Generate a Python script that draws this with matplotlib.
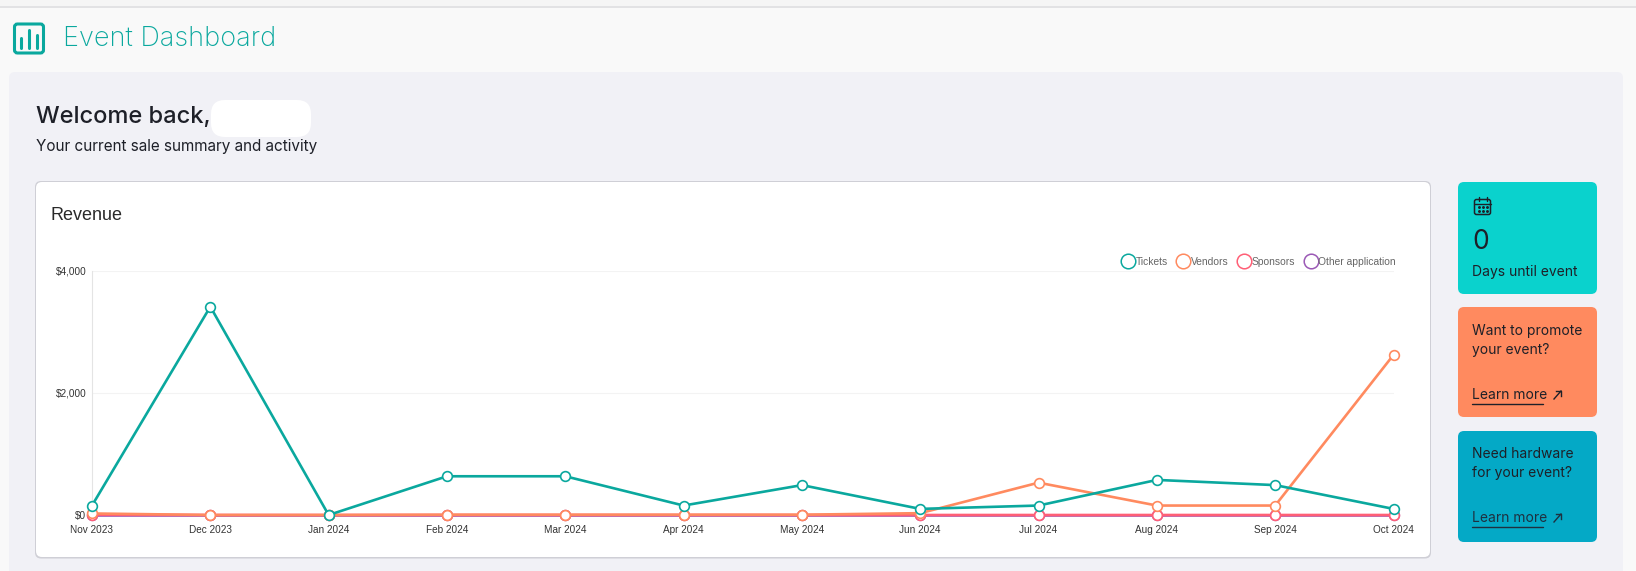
import matplotlib
matplotlib.use('Agg')
import matplotlib.pyplot as plt
from matplotlib.lines import Line2D
from matplotlib.patches import FancyBboxPatch, Rectangle
from matplotlib.ticker import FuncFormatter
import numpy as np

W, H = 1636, 571

months = ['Nov 2023', 'Dec 2023', 'Jan 2024', 'Feb 2024', 'Mar 2024', 'Apr 2024',
          'May 2024', 'Jun 2024', 'Jul 2024', 'Aug 2024', 'Sep 2024', 'Oct 2024']
tickets = [155, 3415, 0, 635, 635, 155, 490, 100, 155, 575, 490, 100]
vendors = [25, 0, 0, 5, 5, 5, 5, 30, 530, 155, 155, 2625]
sponsors = [5, 0, 0, 0, 0, 0, 0, 0, 0, 0, 0, 0]
other = [0, 0, 0, 0, 0, 0, 0, 0, 0, 0, 0, 0]
yticks = [0, 2000, 4000]

TEAL = '#0aa89e'
ORANGE = '#ff8a5f'
PINK = '#ff5f76'
PURPLE = '#9b59b6'
INK = '#1e2028'
UI_FONT = ['Inter', 'DejaVu Sans']
CHART_FONT = ['Liberation Sans', 'DejaVu Sans']


def box(ax, x0, y0, x1, y1, color, r=6, **kw):
    p = FancyBboxPatch((x0 + r, y0 + r), x1 - x0 - 2 * r, y1 - y0 - 2 * r,
                       boxstyle=f'round,pad={r},rounding_size={r}',
                       facecolor=color, edgecolor='none', **kw)
    ax.add_patch(p)
    return p


def px_line(ax, xs, ys, color, lw=1.4):
    ax.plot(xs, ys, color=color, lw=lw, solid_capstyle='round')


def learn_more(ax, x, y, color):
    ax.text(x, y, 'Learn more', fontsize=10, color=color, family=UI_FONT, va='center')
    px_line(ax, [x, x + 71], [y + 9, y + 9], color, 1.0)
    ax.plot([x + 82, x + 89], [y + 4, y - 4], color=color, lw=1.0)
    ax.plot([x + 84, x + 89, x + 89], [y - 4, y - 4, y + 1], color=color, lw=1.0)


fig = plt.figure(figsize=(W / 100, H / 100), dpi=100, facecolor='#f9f9f9')
bg = fig.add_axes([0, 0, 1, 1])
bg.set(xlim=(0, W), ylim=(H, 0))
bg.axis('off')

# top strip
bg.add_patch(Rectangle((0, 0), W, 6, facecolor='#f5f5f5', edgecolor='none'))
bg.add_patch(Rectangle((0, 6), W, 1.5, facecolor='#e2e2e4', edgecolor='none'))

# header icon and title
icon = FancyBboxPatch((14.5, 24), 29, 29, boxstyle='round,pad=0,rounding_size=3',
                      facecolor='none', edgecolor=TEAL, lw=2.2)
bg.add_patch(icon)
for x, top in [(21, 38), (29, 30), (37, 35)]:
    px_line(bg, [x, x], [top, 48], TEAL, 2.2)
bg.text(63, 39, 'Event Dashboard', fontsize=19.5, color=TEAL, family=UI_FONT,
        va='center', fontweight='light')

# main panel
box(bg, 9, 72, 1623, H + 20, '#f1f1f6', r=6)
bg.text(36, 117, 'Welcome back,', fontsize=17, color=INK, family=UI_FONT, va='center',
        fontweight='medium')
box(bg, 211, 100, 311, 137, 'white', r=14)
bg.text(36, 146, 'Your current sale summary and activity', fontsize=11, color=INK,
        family=UI_FONT, va='center')

# chart card
box(bg, 35, 181, 1431, 558.5, '#cfcfd6', r=6)
box(bg, 36, 182, 1430, 557, 'white', r=6)
bg.text(50, 216, 'Revenue', fontsize=13, color='#2a2a2a', family=CHART_FONT, va='center')

# side cards
box(bg, 1458, 182, 1597, 294, '#0ad2cd', r=6)
box(bg, 1458, 307, 1597, 417, ORANGE, r=6)
box(bg, 1458, 431, 1597, 542, '#04a9c6', r=6)

# calendar icon
cal = FancyBboxPatch((1474.5, 199.5), 16, 15, boxstyle='round,pad=0,rounding_size=2',
                     facecolor='none', edgecolor=INK, lw=1.1)
bg.add_patch(cal)
px_line(bg, [1475, 1491], [204, 204], INK, 1.0)
px_line(bg, [1478.5, 1478.5], [197, 201], INK, 1.0)
px_line(bg, [1487, 1487], [197, 201], INK, 1.0)
bg.scatter([1479, 1483, 1487, 1479, 1483, 1487], [207, 207, 207, 211, 211, 211],
           s=1.2, color=INK, zorder=3)

bg.text(1472, 242, '0', fontsize=19, color=INK, family=UI_FONT, va='center')
bg.text(1472, 272, 'Days until event', fontsize=10, color=INK, family=UI_FONT, va='center')
bg.text(1472, 331, 'Want to promote', fontsize=10, color=INK, family=UI_FONT, va='center')
bg.text(1472, 350, 'your event?', fontsize=10, color=INK, family=UI_FONT, va='center')
learn_more(bg, 1472, 395, INK)
bg.text(1472, 454, 'Need hardware', fontsize=10, color=INK, family=UI_FONT, va='center')
bg.text(1472, 473, 'for your event?', fontsize=10, color=INK, family=UI_FONT, va='center')
learn_more(bg, 1472, 518, '#1e3040')

# revenue chart
left, right, top, bottom = 92, 1393.5, 271, 515
ax = fig.add_axes([left / W, 1 - bottom / H, (right - left) / W, (bottom - top) / H])
ax.patch.set_alpha(0)
ax.set(xlim=(0, 11), ylim=(0, 4000))
x = np.arange(len(months))
series = [('Other application', other, PURPLE), ('Sponsors', sponsors, PINK),
          ('Vendors', vendors, ORANGE), ('Tickets', tickets, TEAL)]
for name, vals, color in series:
    ax.plot(x, vals, color=color, lw=1.9, marker='o', ms=7, mfc='white', mec=color,
            mew=1.2, clip_on=False, zorder=4)

ax.set_xticks(x, months)
ax.set_yticks(yticks)
ax.yaxis.set_major_formatter(FuncFormatter(lambda v, _: f'${v:,.0f}'))
ax.tick_params(length=0, labelsize=7.2, labelcolor='#333333', pad=4)
ax.tick_params(axis='x', pad=7)
for lab in ax.get_xticklabels() + ax.get_yticklabels():
    lab.set_family(CHART_FONT)
ax.grid(axis='y', color='#f3f3f3', lw=0.8)
ax.set_axisbelow(True)
for side in ['top', 'right', 'bottom']:
    ax.spines[side].set_visible(False)
ax.spines['left'].set_color('#e4e4e4')
ax.spines['left'].set_linewidth(0.8)

handles = [Line2D([], [], ls='none', marker='o', ms=10.5, mfc='white', mec=c, mew=1.1)
           for _, _, c in series[::-1]]
leg = ax.legend(handles, [s[0] for s in series[::-1]], ncol=4, frameon=False,
                loc='lower right', bbox_to_anchor=(1400 / (right - left) - 92 / (right - left), 1.0),
                fontsize=7.4, labelcolor='#666666', handletextpad=0.0, columnspacing=0.75,
                borderaxespad=0, borderpad=0.4, handlelength=1.5,
                prop={'family': CHART_FONT, 'size': 7.4})

fig.savefig('out.png', dpi=100, facecolor=fig.get_facecolor())
